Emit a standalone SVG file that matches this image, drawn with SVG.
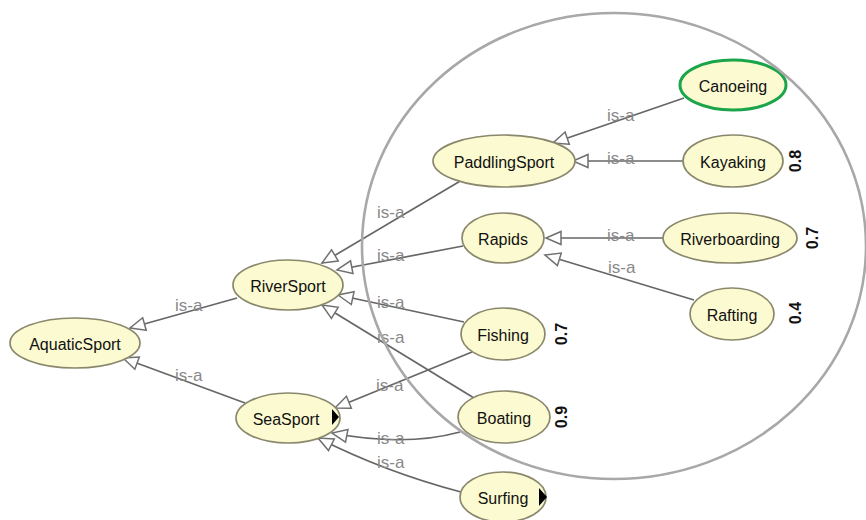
<svg xmlns="http://www.w3.org/2000/svg" width="866" height="520" viewBox="0 0 866 520">
<style>
.node ellipse{fill:#fcfad0;stroke:#8a886c;stroke-width:1.7}
.node text{font-family:"Liberation Sans",Arial,sans-serif;font-size:16px;fill:#111;text-anchor:middle;dominant-baseline:central}
.edge{fill:none;stroke:#666;stroke-width:1.7;marker-end:url(#tri)}
.lbl{font-family:"Liberation Sans",Arial,sans-serif;font-size:17px;fill:#888}
.num{font-family:"Liberation Sans",Arial,sans-serif;font-size:14px;font-weight:bold;fill:#111;text-anchor:middle;dominant-baseline:central}
</style>
<defs>
<marker id="tri" markerUnits="userSpaceOnUse" markerWidth="20" markerHeight="18" refX="16" refY="7.5" orient="auto" overflow="visible">
<path d="M1,1 L16,7.5 L1,14 Z" fill="#fff" stroke="#707070" stroke-width="1.5"/>
</marker>
</defs>
<rect width="866" height="520" fill="#fff"/>
<g id="connectors">
<path class="edge" d="M684 98 L553 143"/>
<path class="edge" d="M683 161 L573 161"/>
<path class="edge" d="M462 180 L322 263"/>
<path class="edge" d="M463 246 L337 270"/>
<path class="edge" d="M464 322 L338 295"/>
<path class="edge" d="M474 398 L322 305"/>
<path class="edge" d="M472 352 L335 408"/>
<path class="edge" d="M460 432 Q405 447 332 433"/>
<path class="edge" d="M461 492 Q385 472 318 438"/>
<path class="edge" d="M663 238 L546 238"/>
<path class="edge" d="M694 300 L545 255"/>
<path class="edge" d="M237 298 L130 328"/>
<path class="edge" d="M245 403 L123 358"/>
<text class="lbl" x="607" y="121">is-a</text>
<text class="lbl" x="607" y="164">is-a</text>
<text class="lbl" x="377" y="218">is-a</text>
<text class="lbl" x="377" y="261">is-a</text>
<text class="lbl" x="377" y="308">is-a</text>
<text class="lbl" x="377" y="343">is-a</text>
<text class="lbl" x="376" y="391">is-a</text>
<text class="lbl" x="377" y="444">is-a</text>
<text class="lbl" x="377" y="468">is-a</text>
<text class="lbl" x="607" y="241">is-a</text>
<text class="lbl" x="608" y="273">is-a</text>
<text class="lbl" x="175" y="311">is-a</text>
<text class="lbl" x="175" y="381">is-a</text>
</g>
<g id="AquaticSport" class="node"><ellipse cx="75" cy="343" rx="65" ry="25"/><text x="75" y="344">AquaticSport</text></g>
<g id="RiverSport" class="node"><ellipse cx="288" cy="285" rx="55" ry="25"/><text x="288" y="286">RiverSport</text></g>
<g id="SeaSport" class="node"><ellipse cx="288" cy="418" rx="52" ry="25"/><text x="286" y="419">SeaSport</text><polygon points="332,409 339,417 332,425" fill="#000"/></g>
<g id="PaddlingSport" class="node"><ellipse cx="504" cy="161" rx="71" ry="26"/><text x="504" y="162">PaddlingSport</text></g>
<g id="Canoeing" class="node"><ellipse cx="733" cy="85" rx="53" ry="25" style="stroke:#1aa54a;stroke-width:3"/><text x="733" y="86">Canoeing</text></g>
<g id="Kayaking" class="node"><ellipse cx="733" cy="161" rx="50" ry="26"/><text x="733" y="162">Kayaking</text><text class="num" transform="translate(795 161) rotate(-90)">0.8</text></g>
<g id="Rapids" class="node"><ellipse cx="503" cy="238" rx="41" ry="25"/><text x="503" y="239">Rapids</text></g>
<g id="Riverboarding" class="node"><ellipse cx="730" cy="238" rx="67" ry="25"/><text x="730" y="239">Riverboarding</text><text class="num" transform="translate(812 238) rotate(-90)">0.7</text></g>
<g id="Rafting" class="node"><ellipse cx="732" cy="314" rx="42" ry="26"/><text x="732" y="315">Rafting</text><text class="num" transform="translate(795 313) rotate(-90)">0.4</text></g>
<g id="Fishing" class="node"><ellipse cx="503" cy="334" rx="42" ry="26"/><text x="503" y="335">Fishing</text><text class="num" transform="translate(561 334) rotate(-90)">0.7</text></g>
<g id="Boating" class="node"><ellipse cx="504" cy="417" rx="46" ry="26"/><text x="504" y="418">Boating</text><text class="num" transform="translate(561 417) rotate(-90)">0.9</text></g>
<g id="Surfing" class="node"><ellipse cx="503" cy="497" rx="43" ry="25"/><text x="503" y="498">Surfing</text><polygon points="539,488 547,497 539,506" fill="#000"/></g>
<ellipse id="focus-circle" cx="614" cy="246" rx="252" ry="233" fill="none" stroke="#a8a8a8" stroke-width="2.6"/>
</svg>
